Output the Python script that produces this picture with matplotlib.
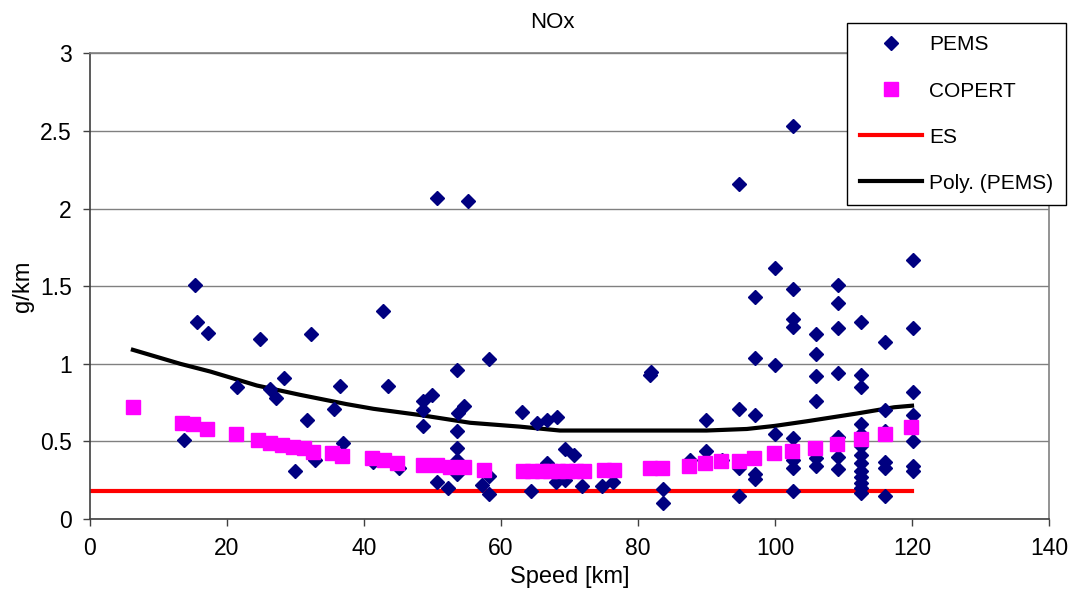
import matplotlib
matplotlib.use("Agg")
import matplotlib.pyplot as plt

plt.rcParams["font.family"] = ["Liberation Sans", "DejaVu Sans"]

# PEMS measurements (speed, NOx g/km)
pems_speed = [15.3, 15.6, 17.2, 13.7, 24.8, 32.3, 21.5, 28.4, 26.3, 27.2, 31.7, 30.0, 32.9, 35.6,
              36.5, 36.9, 42.8, 43.5, 41.4, 45.1, 50.7, 55.2, 48.7, 49.9, 48.7, 48.7, 50.7, 52.3,
              53.6, 54.6, 53.8, 53.6, 53.6, 53.6, 53.6, 58.2, 57.2, 58.2, 58.2, 63.1, 64.4, 65.3,
              66.7, 68.2, 66.7, 69.3, 70.6, 68.0, 69.4, 71.9, 74.8, 76.4, 81.7, 81.9, 83.6, 83.6,
              87.6, 89.9, 89.9, 92.2, 94.8, 94.8, 94.8, 94.8, 97.1, 97.1, 97.1, 97.1, 97.1,
              100.0, 100.0, 100.0, 102.7, 102.7, 102.7, 102.7, 102.7, 102.7, 102.7, 102.7,
              106.0, 106.0, 106.0, 106.0, 106.0, 106.0, 109.2, 109.2, 109.2, 109.2, 109.2, 109.2,
              109.2, 112.5, 112.5, 112.5, 112.5, 112.5, 112.5, 112.5, 112.5, 112.5, 112.5, 112.5,
              112.5, 112.5, 116.1, 116.1, 116.1, 116.1, 116.1, 116.1, 120.1, 120.1, 120.1, 120.1,
              120.1, 120.1, 120.1]
pems_nox = [1.51, 1.27, 1.20, 0.51, 1.16, 1.19, 0.85, 0.91, 0.84, 0.78, 0.64, 0.31, 0.38, 0.71,
            0.86, 0.49, 1.34, 0.86, 0.37, 0.33, 2.07, 2.05, 0.76, 0.80, 0.70, 0.60, 0.24, 0.20,
            0.96, 0.73, 0.68, 0.57, 0.46, 0.38, 0.29, 1.03, 0.22, 0.16, 0.28, 0.69, 0.18, 0.62,
            0.64, 0.66, 0.36, 0.45, 0.41, 0.24, 0.25, 0.21, 0.21, 0.24, 0.93, 0.95, 0.19, 0.10,
            0.38, 0.64, 0.44, 0.38, 0.33, 2.16, 0.71, 0.15, 1.43, 1.04, 0.67, 0.26, 0.29,
            1.62, 0.99, 0.55, 2.53, 1.48, 1.29, 1.24, 0.52, 0.38, 0.33, 0.18,
            1.19, 1.06, 0.92, 0.76, 0.39, 0.34, 1.51, 1.39, 1.23, 0.94, 0.53, 0.40,
            0.32, 1.27, 0.93, 0.85, 0.61, 0.55, 0.47, 0.41, 0.36, 0.31, 0.27, 0.23,
            0.20, 0.17, 1.14, 0.70, 0.57, 0.37, 0.33, 0.15, 1.67, 1.23, 0.82, 0.67,
            0.50, 0.34, 0.31]

# COPERT emission factors
copert_speed = [6.3, 13.4, 15.1, 17.1, 21.3, 24.6, 26.3, 28.0, 29.7, 31.2, 32.6, 35.3, 36.8,
                41.2, 42.9, 44.8, 48.7, 50.7, 52.6, 54.6, 57.5, 63.3, 64.6, 66.0, 67.2, 68.4,
                69.7, 71.0, 72.1, 75.0, 76.5, 81.7, 83.5, 87.5, 89.8, 92.1, 94.7, 96.9, 99.9,
                102.5, 105.8, 109.0, 112.5, 116.0, 119.9]
copert_nox = [0.72, 0.62, 0.61, 0.58, 0.55, 0.51, 0.49, 0.475, 0.466, 0.455, 0.434, 0.423, 0.406,
              0.39, 0.38, 0.36, 0.348, 0.348, 0.333, 0.333, 0.316, 0.311, 0.311, 0.311, 0.311, 0.311,
              0.311, 0.311, 0.311, 0.316, 0.316, 0.327, 0.327, 0.344, 0.363, 0.376, 0.376, 0.395,
              0.423, 0.438, 0.455, 0.481, 0.515, 0.546, 0.59]

# ES limit
es_speed = [0, 120]
es_nox = [0.18, 0.18]

# polynomial trend of PEMS
poly_speed = [6.3, 13.2, 17.6, 24.4, 30.7, 37.5, 41.4, 48.2, 55.5, 62.8, 68.6, 80, 90, 95.9,
              100, 104.7, 112, 117.4, 120]
poly_nox = [1.09, 1.00, 0.95, 0.86, 0.80, 0.74, 0.71, 0.67, 0.62, 0.595, 0.57, 0.57, 0.57, 0.58,
            0.60, 0.63, 0.68, 0.72, 0.73]

x_ticks = [0, 20, 40, 60, 80, 100, 120, 140]
y_ticks = [0, 0.5, 1, 1.5, 2, 2.5, 3]
y_ticklabels = ["0", "0.5", "1", "1.5", "2", "2.5", "3"]

fig = plt.figure(figsize=(10.72, 6.07), dpi=100)
ax = fig.add_axes([0.0837, 0.145, 0.9786 - 0.0837, 0.912 - 0.145])

ax.plot(pems_speed, pems_nox, linestyle="none", marker="D", markersize=7.6,
        color="#000080", label="PEMS", zorder=3)
ax.plot(copert_speed, copert_nox, linestyle="none", marker="s", markersize=9.4,
        color="#ff00ff", label="COPERT", zorder=4)
ax.plot(es_speed, es_nox, color="#ff0000", linewidth=3, label="ES", zorder=2)
ax.plot(poly_speed, poly_nox, color="black", linewidth=3, label="Poly. (PEMS)", zorder=2)

ax.set_xlim(0, 140)
ax.set_ylim(0, 3)
ax.set_xticks(x_ticks)
ax.set_yticks(y_ticks)
ax.set_yticklabels(y_ticklabels)
ax.tick_params(axis="both", labelsize=16.5, direction="out", length=5, width=1,
               color="#404040", pad=8)
ax.yaxis.grid(True, color="#808080", linewidth=1)
ax.set_axisbelow(True)
for side in ["left", "bottom"]:
    ax.spines[side].set_color("#404040")
    ax.spines[side].set_linewidth(1.2)
for side in ["top", "right"]:
    ax.spines[side].set_color("#808080")
    ax.spines[side].set_linewidth(1.2)

ax.set_xlabel("Speed [km]", fontsize=17)
ax.set_ylabel("g/km", fontsize=17, labelpad=4)
fig.text(552 / 1072, 1 - 22 / 607, "NOx", fontsize=16, ha="center", va="center")

leg = ax.legend(loc="upper left", bbox_to_anchor=(847 / 1072, 1 - 23 / 607),
                bbox_transform=fig.transFigure, fontsize=15, frameon=True, fancybox=False,
                edgecolor="black", framealpha=1, borderpad=0.6, labelspacing=1.3,
                handlelength=3.0, handletextpad=0.35, borderaxespad=0)
leg.get_frame().set_linewidth(1)
leg.set_zorder(10)

fig.savefig("out.png", dpi=100)
